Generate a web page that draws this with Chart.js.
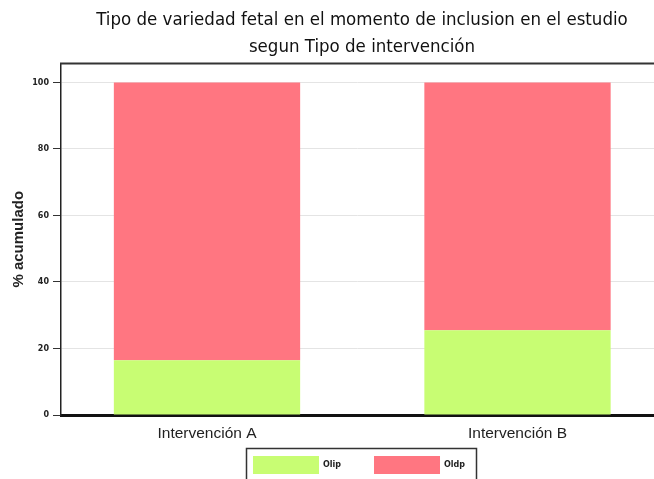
<!DOCTYPE html>
<html>
<head>
<meta charset="utf-8">
<script src="https://cdn.jsdelivr.net/npm/chart.js@4.4.1/dist/chart.umd.min.js"></script>
<style>
  html, body { margin: 0; padding: 0; background: #fff; overflow: hidden; }
  #wrap { width: 654px; height: 479px; position: relative; }
</style>
</head>
<body>
<div id="wrap"><canvas id="c" width="654" height="479"></canvas></div>
<script>
const categories = ['Intervención A', 'Intervención B'];
const seriesNames = ['Olip', 'Oldp'];
const olipValues = [16.5, 25.5];
const oldpValues = [83.5, 74.5];
const yTicks = [0, 20, 40, 60, 80, 100];
const titleLines = ['Tipo de variedad fetal en el momento de inclusion en el estudio', 'segun Tipo de intervención'];
const yTitle = '% acumulado';

const toPoints = arr => arr.map((v, i) => ({ x: i, y: v }));

const LEG_PAD = 33;
const SHIFT = 35;
const LEG_SHIFT = 32;

const framePlugin = {
  id: 'frame',
  afterLayout(chart) {
    const lg = chart.legend;
    if (lg) {
      lg.left += LEG_SHIFT; lg.right += LEG_SHIFT;
      lg.top = 456 - LEG_PAD;
      lg.bottom = chart.height;
      lg.height = lg.bottom - lg.top;
    }
    const tb = chart.titleBlock;
    if (tb) { tb.left += SHIFT; tb.right += SHIFT; }
  },
  afterDraw(chart) {
    const { ctx, chartArea } = chart;
    ctx.save();
    ctx.strokeStyle = '#333';
    ctx.lineWidth = 2;
    ctx.beginPath();
    ctx.moveTo(chartArea.left - 1, chartArea.top);
    ctx.lineTo(chartArea.right, chartArea.top);
    ctx.stroke();
    const lg = chart.legend;
    if (lg && lg.lineWidths) {
      const lw = lg.lineWidths[0];
      const start = (lg.left + LEG_PAD + lg.right - lw) / 2;
      const end = start + lw - LEG_PAD;
      const x0 = Math.round(start - 7) + 0.5;
      const x1 = Math.round(end + 11) + 0.5;
      const y0 = 448.5;
      ctx.strokeStyle = '#333';
      ctx.lineWidth = 1.5;
      ctx.beginPath();
      ctx.moveTo(x0, chart.height + 2);
      ctx.lineTo(x0, y0);
      ctx.lineTo(x1, y0);
      ctx.lineTo(x1, chart.height + 2);
      ctx.stroke();
    }
    ctx.restore();
  }
};

new Chart(document.getElementById('c'), {
  type: 'bar',
  data: {
    datasets: [
      { label: seriesNames[0], data: toPoints(olipValues), backgroundColor: '#c8fd73', borderWidth: 0 },
      { label: seriesNames[1], data: toPoints(oldpValues), backgroundColor: '#ff7681', borderWidth: 0 }
    ]
  },
  options: {
    responsive: false,
    animation: false,
    devicePixelRatio: 1,
    layout: { padding: { left: 0, right: 0, top: 0, bottom: 0 } },
    categoryPercentage: 1,
    barPercentage: 0.6,
    plugins: {
      title: {
        display: true,
        text: titleLines,
        color: '#111',
        font: { family: "'Liberation Sans Narrow', 'Arial Narrow', 'DejaVu Sans Condensed', sans-serif", size: 18.5, weight: 'normal', lineHeight: 1.5 },
        padding: { top: 6, bottom: 2 }
      },
      legend: {
        position: 'bottom',
        maxHeight: 34,
        labels: {
          boxWidth: 66,
          boxHeight: 18,
          padding: LEG_PAD,
          color: '#222',
          font: { family: "'DejaVu Sans', sans-serif", size: 8, weight: 'bold' }
        }
      },
      tooltip: { enabled: false }
    },
    scales: {
      x: {
        type: 'linear',
        offset: false,
        stacked: true,
        min: -0.4702,
        max: 1.4396,
        afterBuildTicks: s => { s.ticks = categories.map((c, i) => ({ value: i })); },
        afterFit: s => { s.height = 30; },
        grid: { display: false, drawTicks: false, offset: false },
        border: { display: true, color: '#111', width: 3 },
        ticks: {
          padding: 9,
          color: '#222',
          font: { family: "'Liberation Sans', Arial, sans-serif", size: 15.5 },
          callback: v => categories[v] ?? ''
        }
      },
      y: {
        stacked: true,
        min: 0,
        max: 105.7,
        afterBuildTicks: s => { s.ticks = yTicks.map(v => ({ value: v })); },
        afterFit: s => { s.width = 61; },
        grid: { color: '#e4e4e4', lineWidth: 1, drawTicks: true, tickLength: 8, tickColor: '#333' },
        border: { display: true, color: '#222', width: 1.5 },
        ticks: {
          padding: 4,
          color: '#222',
          font: { family: "'DejaVu Sans', sans-serif", size: 8, weight: 'bold' }
        },
        title: {
          display: true,
          text: yTitle,
          color: '#222',
          font: { family: "'Liberation Sans', Arial, sans-serif", size: 15, weight: 'bold' },
          padding: { top: 10, bottom: 0 }
        }
      }
    }
  },
  plugins: [framePlugin]
});
</script>
</body>
</html>
